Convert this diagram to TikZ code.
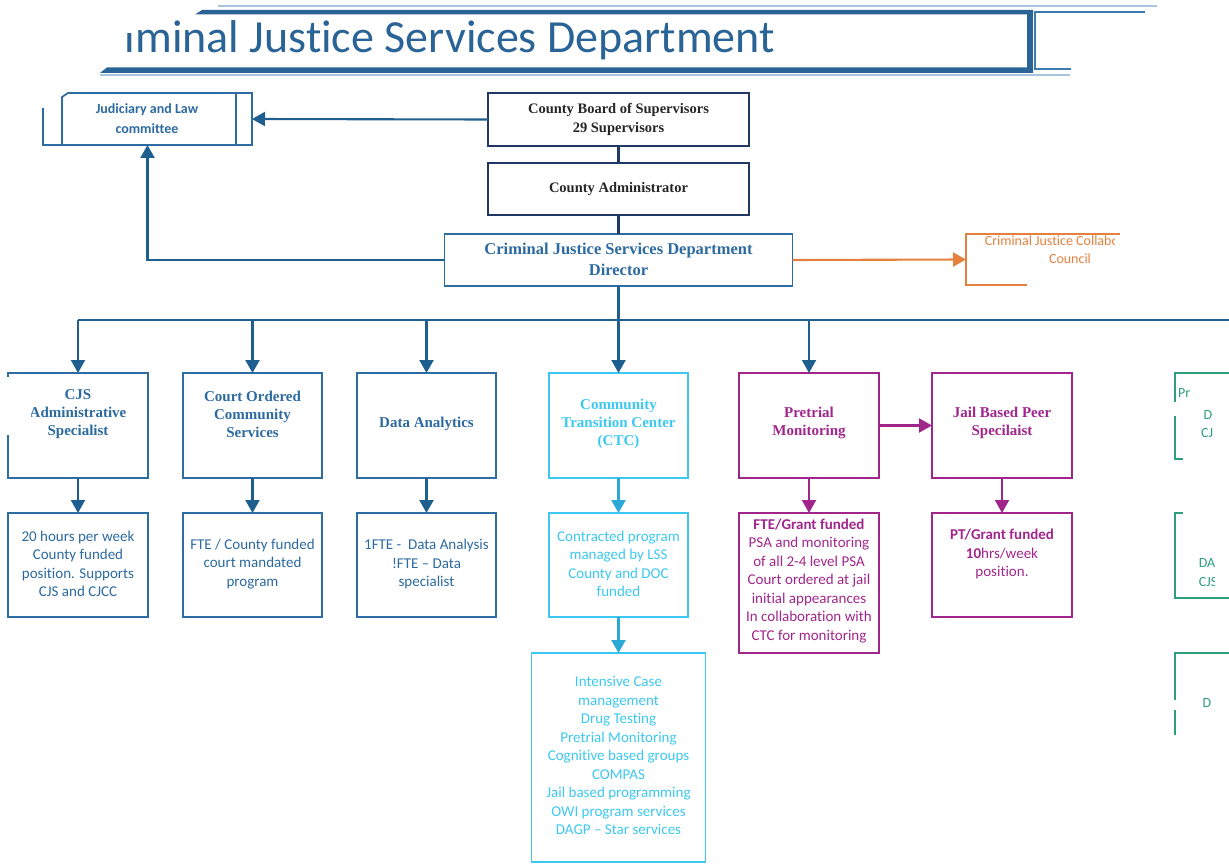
\documentclass[tikz,border=0pt]{standalone}
\usepackage{fontspec}
\setmainfont{Liberation Serif}
\newfontfamily\body[Ligatures={TeX,NoCommon}]{Carlito}
\usetikzlibrary{arrows.meta}
\definecolor{navy}{HTML}{1F3864}
\definecolor{dtext}{HTML}{262626}
\definecolor{bline}{HTML}{2E6DA4}
\definecolor{btext}{HTML}{2C6AA0}
\definecolor{bus}{HTML}{1F5F8F}
\definecolor{cyanl}{HTML}{3CC8F0}
\definecolor{cyana}{HTML}{2AA9D6}
\definecolor{mag}{HTML}{A1268C}
\definecolor{orng}{HTML}{E5813E}
\definecolor{grn}{HTML}{2E9E7E}
\definecolor{ttl}{HTML}{2A6496}
\definecolor{lightb}{HTML}{A9C4DC}
\definecolor{band2}{HTML}{3C7BB0}
\begin{document}
\begin{tikzpicture}[x=1pt,y=-1pt,
  every node/.style={inner sep=0pt, outer sep=0pt},
  box/.style={draw, line width=1.8pt, rectangle},
  conn/.style={line width=2.1pt},
  arr/.style={conn, -{Triangle[width=14pt,length=13pt]}},
  head/.style={font=\fontsize{15}{18}\selectfont\bfseries, align=center},
  bighead/.style={font=\fontsize{16.5}{21}\selectfont\bfseries, align=center},
  txt/.style={font=\body\fontsize{15}{18.5}\selectfont, align=center},
  smalltxt/.style={font=\body\fontsize{14}{18}\selectfont, align=center},
]
\useasboundingbox (0,0) rectangle (1229,864);

% ---------- title ----------
\node[font=\body\fontsize{46}{50}\selectfont, text=ttl, anchor=base east] (title) at (775,53) {Criminal Justice Services Department};
\fill[white] (0,0) -- (134,0) -- (134,33) -- (123,33) -- (123,80) -- (0,80) -- cycle;
\draw[lightb, line width=1.5pt] (218,6) -- (1157,6);
\fill[ttl] (195,14.5) -- (202,10) -- (1033,10) -- (1033,14.5) -- cycle;
\fill[ttl] (100,73) -- (107,67.5) -- (1033,67.5) -- (1033,73) -- cycle;
\fill[ttl] (1027,10) rectangle (1033,73);
\draw[lightb, line width=1.2pt] (100,75) -- (1070,75);
\draw[band2, line width=2pt] (1145,12) -- (1035,12) -- (1035,69.5) -- (1071,69.5);

% ---------- top boxes ----------
\node[box, draw=navy, minimum width=261pt, minimum height=53pt] (board) at (618.5,119.5) {};
\node[head, text=dtext, font=\fontsize{14.5}{19}\selectfont\bfseries] (boardt) at (618.5,119.5) {County Board of Supervisors\\29 Supervisors};
\node[box, draw=navy, minimum width=261pt, minimum height=52pt] (admin) at (618.5,189) {};
\node[head, text=dtext, font=\fontsize{14.5}{19}\selectfont\bfseries] (admint) at (618.5,189) {County Administrator};
\node[box, draw=bline, minimum width=348pt, minimum height=52pt] (dir) at (618.5,260) {};
\node[bighead, text=btext] (dirt) at (618.5,259) {Criminal Justice Services Department\\Director};

% Judiciary
\node[minimum width=209pt, minimum height=52pt] (jud) at (147.5,119) {};
\draw[bline, line width=1.8pt] (43,108) -- (43,145) -- (252,145) -- (252,93) -- (68,93) -- (62,97) -- (62,145);
\draw[bline, line width=1.8pt] (236,93) -- (236,145);
\node[font=\body\fontsize{14}{20}\selectfont\bfseries, text=btext, align=center] (judt) at (147,119) {Judiciary and Law\\committee};

% orange council
\node[minimum width=200pt, minimum height=51pt] (cjcc) at (1066,259.5) {};
\draw[orng, line width=1.8pt] (1120,234) -- (966,234) -- (966,285) -- (1027,285);
\begin{scope}
\clip (900,225) rectangle (1114,300);
\node[smalltxt, text=orng] (cjcct) at (1068,241) {Criminal Justice Collaborative};
\end{scope}
\node[smalltxt, text=orng] (cjcct2) at (1070,259) {Council};

% connectors top
\draw[conn, navy] (board.south) -- (admin.north);
\draw[conn, navy] (admin.south) -- (dir.north);
\draw[arr, bus] (board.west) -- (jud.east);
\draw[arr, bus] (dir.west) -| (jud.south);
\draw[arr, orng] (dir.east) -- (cjcc.west);

% ---------- bus ----------
\coordinate (b0) at (618.5,320);
\coordinate (b1) at (78,320);
\coordinate (b2) at (252.5,320);
\coordinate (b3) at (426.5,320);
\coordinate (b5) at (809,320);
\coordinate (bend) at (1229,320);
\draw[conn, bus] (dir.south) -- (b0);
\draw[conn, bus] (b1) -- (bend);

% ---------- row 1 ----------
\node[minimum width=140pt, minimum height=105pt] (cjs) at (78,425.5) {};
\node[box, draw=bline, minimum width=139pt, minimum height=105pt] (ccs) at (252.5,425.5) {};
\node[box, draw=bline, minimum width=139pt, minimum height=105pt] (da) at (426.5,425.5) {};
\node[box, draw=cyanl, minimum width=139pt, minimum height=105pt] (ctc) at (618.5,425.5) {};
\node[box, draw=mag, minimum width=140pt, minimum height=105pt] (pm) at (809,425.5) {};
\node[box, draw=mag, minimum width=140pt, minimum height=105pt] (jb) at (1002,425.5) {};

\node[head, text=btext] (cjst) at (78,414) {CJS\\Administrative\\Specialist};
\fill[white] (0,379) rectangle (30.5,434);
\draw[bline, line width=1.8pt] (8,377) -- (8,373) -- (148,373) -- (148,478) -- (8,478) -- (8,435);
\node[head, text=btext] (ccst) at (252.5,414) {Court Ordered\\Community\\Services};
\node[head, text=btext] (dat) at (426.5,424) {Data Analytics};
\node[head, text=cyanl] (ctct) at (618.5,424) {Community\\Transition Center\\(CTC)};
\node[head, text=mag] (pmt) at (809,423) {Pretrial\\Monitoring};
\node[head, text=mag] (jbt) at (1002,423) {Jail Based Peer\\Specilaist};

\draw[arr, bus] (b1) -- (cjs.north);
\draw[arr, bus] (b2) -- (ccs.north);
\draw[arr, bus] (b3) -- (da.north);
\draw[arr, bus] (b0) -- (ctc.north);
\draw[arr, bus] (b5) -- (pm.north);
\draw[arr, mag] (pm.east) -- (jb.west);

% ---------- row 2 ----------
\node[box, draw=bline, minimum width=140pt, minimum height=104pt] (cjs2) at (78,565) {};
\node[box, draw=bline, minimum width=139pt, minimum height=104pt] (ccs2) at (252.5,565) {};
\node[box, draw=bline, minimum width=139pt, minimum height=104pt] (da2) at (426.5,565) {};
\node[box, draw=cyanl, minimum width=139pt, minimum height=104pt] (ctc2) at (618.5,565) {};
\node[box, draw=mag, minimum width=140pt, minimum height=140pt] (pm2) at (809,583) {};
\node[box, draw=mag, minimum width=140pt, minimum height=104pt] (jb2) at (1002,565) {};

\node[txt, text=btext] (cjs2t) at (78,564) {20 hours per week\\County funded\\position. Supports\\CJS and CJCC};
\node[txt, text=btext] (ccs2t) at (252.5,564) {FTE / County funded\\court mandated\\program};
\node[txt, text=btext] (da2t) at (426.5,564) {1FTE -\ \ Data Analysis\\!FTE – Data\\specialist};
\node[txt, text=cyanl] (ctc2t) at (618.5,564) {Contracted program\\managed by LSS\\County and DOC\\funded};
\node[txt, text=mag] (pm2t) at (809,581) {\textbf{FTE/Grant funded}\\PSA and monitoring\\of all 2-4 level PSA\\Court ordered at jail\\initial appearances\\In collaboration with\\CTC for monitoring};
\node[txt, text=mag] (jb2t) at (1002,554) {\textbf{PT/Grant funded}\\\textbf{10}hrs/week\\position.};

\draw[arr, bus] (cjs.south) -- (cjs2.north);
\draw[arr, bus] (ccs.south) -- (ccs2.north);
\draw[arr, bus] (da.south) -- (da2.north);
\draw[arr, cyana] (ctc.south) -- (ctc2.north);
\draw[arr, mag] (pm.south) -- (pm2.north);
\draw[arr, mag] (jb.south) -- (jb2.north);

% ---------- row 3 ----------
\node[box, draw=cyanl, minimum width=174pt, minimum height=209pt] (ctc3) at (618.5,757.5) {};
\node[txt, text=cyanl] (ctc3t) at (618.5,755.5) {Intensive Case\\management\\Drug Testing\\Pretrial Monitoring\\Cognitive based groups\\COMPAS\\Jail based programming\\OWI program services\\DAGP – Star services};
\draw[arr, cyana] (ctc2.south) -- (ctc3.north);

% ---------- green fragments at right ----------
\draw[grn, line width=1.8pt] (1229,373) -- (1175,373) -- (1175,402);
\draw[grn, line width=1.8pt] (1175,416) -- (1175,459) -- (1183,459);
\draw[grn, line width=1.8pt] (1183,513) -- (1175,513) -- (1175,598) -- (1229,598);
\draw[grn, line width=1.8pt] (1229,653) -- (1175,653) -- (1175,700);
\draw[grn, line width=1.8pt] (1175,710) -- (1175,735);
\begin{scope}
\clip (1176,380) rectangle (1229,760);
\node[smalltxt, text=grn, anchor=west] (g1) at (1178,393) {Pr};
\node[smalltxt, text=grn] (g2) at (1208,415) {D};
\node[smalltxt, text=grn] (g3) at (1207,433) {CJ};
\node[smalltxt, text=grn] (g4) at (1207,563) {DA};
\node[smalltxt, text=grn] (g5) at (1208,582) {CJS};
\node[smalltxt, text=grn] (g6) at (1207,703) {D};
\end{scope}
\fill[white] (1214,385) rectangle (1229,440);
\fill[white] (1215,550) rectangle (1229,592);
\fill[white] (1214,690) rectangle (1229,712);
\end{tikzpicture}
\end{document}
